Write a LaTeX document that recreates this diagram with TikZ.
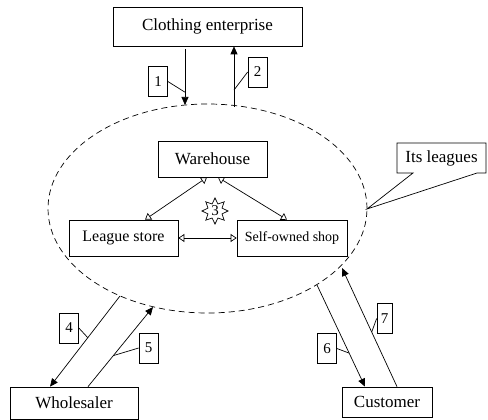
\documentclass[tikz,border=0pt]{standalone}
\usepackage{fontspec}
\setmainfont{Liberation Serif}
\usetikzlibrary{arrows.meta,shapes.geometric}

\begin{document}
\begin{tikzpicture}[x=1pt,y=-1pt, line width=0.7pt,
every node/.style={font=\fontsize{17}{19}\selectfont,align=center,inner sep=0pt},
box/.style={draw,rectangle},
numbox/.style={draw,minimum width=19pt,minimum height=30pt,font=\fontsize{15}{17}\selectfont},
arrow/.style={-{Triangle[length=8pt,width=7pt]}},
open/.style={{Triangle[open,length=6pt,width=8pt]}-{Triangle[open,length=6pt,width=8pt]}}]
\useasboundingbox (0,0) rectangle (488,420);
% boxes
\node[box,minimum width=189pt,minimum height=39pt] (ent) at (207.5,26.5) {Clothing enterprise};
\node[draw,dash pattern=on 6pt off 4pt,ellipse,minimum width=319pt,minimum height=209pt] (lg) at (207.5,208.5) {};
\node[box,minimum width=109pt,minimum height=36pt] (wh) at (212.5,159) {Warehouse};
\node[box,minimum width=109pt,minimum height=36pt,font=\fontsize{16}{18}\selectfont] (ls) at (123.5,238) {League store};
\node[box,minimum width=110pt,minimum height=36pt,font=\fontsize{14}{16}\selectfont] (so) at (292,238) {Self-owned shop};
\node[box,minimum width=128pt,minimum height=32pt] (who) at (74,403) {Wholesaler};
\node[box,minimum width=90pt,minimum height=30pt] (cus) at (387,402) {Customer};
\node[draw,star,star points=8,star point ratio=1.7,minimum size=26pt,font=\fontsize{15}{17}\selectfont] (s3) at (215,211) {3};
% callout
\draw (397,143) -- (486,143) -- (486,173) -- (477,173) -- (367,209) -- (413,173) -- (397,173) -- cycle;
\node (its) at (441.5,158) {Its leagues};
% points on the ellipse
\coordinate (e1) at (185,105);
\coordinate (e2) at (234,107);
\coordinate (e4) at (120,296);
\coordinate (e5) at (153,307);
\coordinate (e6) at (317,285);
\coordinate (e7) at (342,268);
% flows
\draw[arrow] ([xshift=-22.5pt,yshift=-3pt]ent.south) -- coordinate[pos=0.77] (p1) (e1);
\draw[arrow] (e2) -- coordinate[pos=0.28] (p2) ([xshift=26.5pt]ent.south);
\draw[arrow] (e4) -- coordinate[pos=0.46] (p4) ([xshift=-24pt]who.north);
\draw[arrow] ([xshift=14pt]who.north) -- coordinate[pos=0.39] (p5) (e5);
\draw[arrow] (e6) -- coordinate[pos=0.67] (p6) ([xshift=-22pt]cus.north);
\draw[arrow] ([xshift=10pt]cus.north) -- coordinate[pos=0.46] (p7) (e7);
\draw[open] ([xshift=-5.5pt]wh.south) -- ([xshift=21.5pt]ls.north);
\draw[open] ([xshift=5.5pt]wh.south) -- ([xshift=-5pt]so.north);
\draw[open] (ls.east) -- (so.west);
% number labels
\node[numbox] (l1) at (158,81.5) {1};
\node[numbox] (l2) at (257.5,72) {2};
\node[numbox] (l4) at (69,328) {4};
\node[numbox] (l5) at (148.5,348) {5};
\node[numbox] (l6) at (327,348.5) {6};
\node[numbox,minimum width=15pt] (l7) at (384.5,318.5) {7};
\draw (l1.east) -- (p1);
\draw (l2.west) -- (p2);
\draw (l4.east) -- (p4);
\draw (l5.west) -- (p5);
\draw (l6.east) -- (p6);
\draw (l7.west) -- (p7);
\end{tikzpicture}
\end{document}
